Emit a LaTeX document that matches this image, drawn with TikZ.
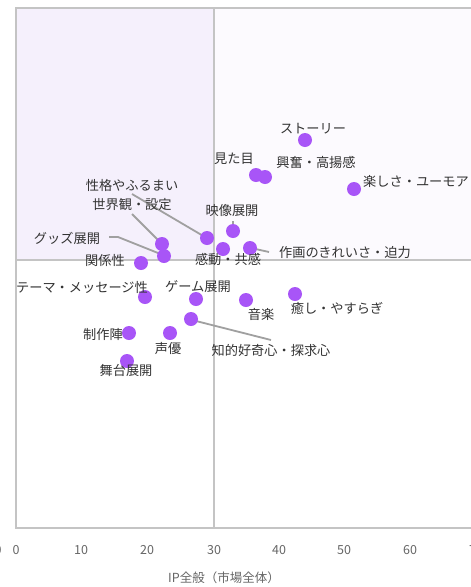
\documentclass[tikz,border=0pt]{standalone}
\usepackage{fontspec}
\setmainfont{Noto Sans CJK JP}
\begin{document}
\begin{tikzpicture}[x=1pt,y=-1pt,
  pt/.style={circle,fill=ptc,inner sep=0pt,minimum size=14pt},
  lab/.style={text=labc,font=\fontsize{13.2}{15}\selectfont,inner sep=0pt},
  tick/.style={text=tickc,font=\fontsize{12.5}{14}\selectfont,inner sep=0pt},
  lead/.style={draw=leadc,line width=1.8pt}]
\definecolor{ptc}{HTML}{A855F7}
\definecolor{labc}{HTML}{333333}
\definecolor{tickc}{HTML}{666666}
\definecolor{leadc}{HTML}{A0A0A0}
\definecolor{framec}{HTML}{C4C4C4}
\definecolor{qa}{HTML}{F5F0FC}
\definecolor{qb}{HTML}{FCFAFE}
\useasboundingbox (0,0) rectangle (471,587);
\clip (0,0) rectangle (471,587);
\fill[white] (0,0) rectangle (471,587);
\fill[qa] (16,8) rectangle (214,260);
\fill[qb] (214,8) rectangle (480,260);
\draw[framec,line width=1.8pt] (480,8) -- (16,8) -- (16,528) -- (480,528);
\draw[framec,line width=1.8pt] (214,8) -- (214,528);
\draw[framec,line width=1.8pt] (16,260) -- (480,260);
% ticks
\node[tick] (t0) at (16,550) {0};
\node[tick] (t10) at (81,550) {10};
\node[tick] (t20) at (147,550) {20};
\node[tick] (t30) at (214,550) {30};
\node[tick] (t40) at (279,550) {40};
\node[tick] (t50) at (344,550) {50};
\node[tick] (t60) at (410,550) {60};
\node[tick] (t70) at (476,550) {70};
\node[tick] (ty0) at (-2,550) {0};
\node[tick] (xl) at (224,578) {IP全般（市場全体）};
% coordinates for leader ends
\coordinate (c1) at (233,221);
\coordinate (c2) at (132,194);
\coordinate (c3) at (132,214);
\coordinate (c4) at (109,237);
\coordinate (c4b) at (118,237);
\coordinate (c5) at (269,252);
\coordinate (c6) at (271,340);
% leaders
\draw[lead] (c1) -- (233,229);
\draw[lead] (c2) -- (205,237);
\draw[lead] (c3) -- (160,242);
\draw[lead] (c4) -- (c4b) -- (163,255);
\draw[lead] (c5) -- (251,248);
\draw[lead] (c6) -- (192,320);
% points
\node[pt] (p1) at (305,140) {};
\node[pt] (p2) at (256,175) {};
\node[pt] (p3) at (265,177) {};
\node[pt] (p4) at (354,189) {};
\node[pt] (p5) at (233,231) {};
\node[pt] (p6) at (207,238) {};
\node[pt] (p7) at (162,244) {};
\node[pt] (p8) at (164,256) {};
\node[pt] (p9) at (141,263) {};
\node[pt] (p10) at (223,249) {};
\node[pt] (p11) at (250,248) {};
\node[pt] (p12) at (145,297) {};
\node[pt] (p13) at (196,299) {};
\node[pt] (p14) at (191,319) {};
\node[pt] (p15) at (129,333) {};
\node[pt] (p16) at (170,333) {};
\node[pt] (p17) at (127,361) {};
\node[pt] (p18) at (246,300) {};
\node[pt] (p19) at (295,294) {};
% labels
\node[lab] (l1) at (313,129) {ストーリー};
\node[lab] (l2) at (234,159) {見た目};
\node[lab] (l3) at (316,162) {興奮・高揚感};
\node[lab,anchor=west] (l4) at (363,181) {楽しさ・ユーモア};
\node[lab] (l5) at (232,211) {映像展開};
\node[lab] (l6) at (132,185) {性格やふるまい};
\node[lab] (l7) at (132,205) {世界観・設定};
\node[lab] (l8) at (67,238) {グッズ展開};
\node[lab] (l9) at (105,260) {関係性};
\node[lab] (l10) at (228,259) {感動・共感};
\node[lab] (l11) at (345,253) {作画のきれいさ・迫力};
\node[lab] (l12) at (82,287) {テーマ・メッセージ性};
\node[lab] (l13) at (198,287) {ゲーム展開};
\node[lab] (l14) at (271,350) {知的好奇心・探求心};
\node[lab] (l15) at (103,334) {制作陣};
\node[lab] (l16) at (168,348) {声優};
\node[lab] (l17) at (126,370) {舞台展開};
\node[lab] (l18) at (261,314) {音楽};
\node[lab] (l19) at (337,308) {癒し・やすらぎ};
\end{tikzpicture}
\end{document}
